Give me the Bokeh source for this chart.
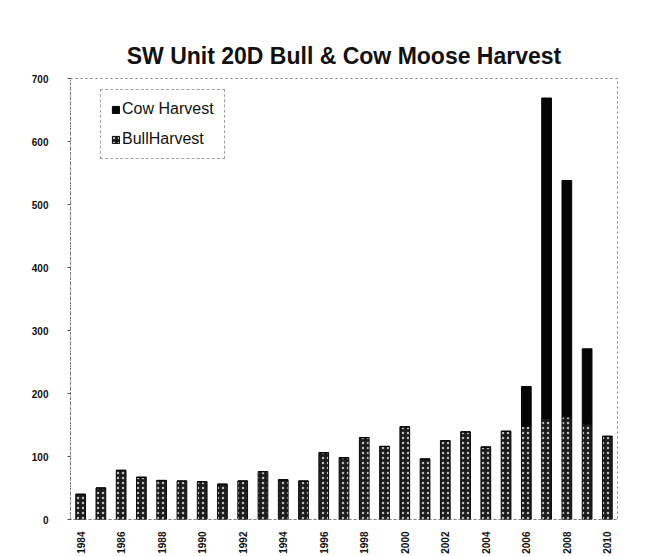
from bokeh.plotting import figure
from bokeh.models import ColumnDataSource, Range1d, FixedTicker, Legend, LegendItem, Title
from bokeh.embed import file_html
from bokeh.resources import INLINE
import math

years = list(range(1984, 2011))
bull_harvest = [40, 50, 78, 67, 62, 61, 60, 56, 61, 76, 63, 61, 106, 98, 130,
                116, 147, 96, 125, 139, 115, 140, 148, 160, 163, 152, 132]
cow_harvest = [0] * 22 + [63, 509, 375, 119, 0]
year_ticks = list(range(1984, 2011, 2))
y_ticks = [0, 100, 200, 300, 400, 500, 600, 700]

source = ColumnDataSource(dict(year=years, bull=bull_harvest, cow=cow_harvest))

p = figure(width=656, height=556, output_backend="svg", toolbar_location=None,
           x_range=Range1d(1983.5, 2010.5), y_range=Range1d(0, 700),
           min_border_left=70, min_border_right=39, min_border_top=78,
           min_border_bottom=28)

p.add_layout(Title(text="SW Unit 20D Bull & Cow Moose Harvest", align="center",
                   text_font="Liberation Sans", text_font_size="23px",
                   text_font_style="bold", text_color="#111111", standoff=19,
                   offset=6), "above")

rs = p.vbar_stack(["bull", "cow"], x="year", width=0.48, source=source,
                  fill_color=["#1c1c1c", "#050505"],
                  line_color=["#0a0a0a", "#050505"],
                  hatch_pattern=["dot", " "],
                  hatch_color=["#bdbdbd", "#050505"],
                  hatch_scale=[5, 5], hatch_weight=[1, 1])

legend = Legend(items=[LegendItem(label="Cow Harvest", renderers=[rs[1]]),
                       LegendItem(label="BullHarvest", renderers=[rs[0]])],
                location=(30, 360), orientation="vertical")
legend.margin = 0
legend.label_text_font = "Liberation Sans"
legend.label_text_font_size = "16px"
legend.label_text_color = "#111111"
legend.glyph_width = 9
legend.glyph_height = 9
legend.spacing = 12
legend.padding = 10
legend.label_standoff = 2
legend.border_line_color = "#444444"
legend.border_line_dash = "3 2"
legend.border_line_width = 1
legend.background_fill_alpha = 1
p.add_layout(legend)

p.xgrid.visible = False
p.ygrid.visible = False
p.outline_line_color = "#777777"
p.outline_line_dash = "2 3"

p.xaxis.ticker = FixedTicker(ticks=year_ticks)
p.xaxis.major_label_orientation = math.pi / 2
p.xaxis.major_label_text_font = "Liberation Sans"
p.xaxis.major_label_text_font_size = "10px"
p.xaxis.major_label_text_font_style = "bold"
p.xaxis.major_label_text_color = "#111111"
p.xaxis.axis_line_color = "#555555"
p.xaxis.axis_line_dash = "1 4"
p.xaxis.major_tick_line_color = None
p.xaxis.minor_tick_line_color = None
p.xaxis.major_label_standoff = 6

p.yaxis.ticker = FixedTicker(ticks=y_ticks)
p.yaxis.major_label_text_font = "Liberation Sans"
p.yaxis.major_label_text_font_size = "10px"
p.yaxis.major_label_text_font_style = "bold"
p.yaxis.major_label_text_color = "#111111"
p.yaxis.axis_line_color = "#444444"
p.yaxis.axis_line_dash = "1 2"
p.yaxis.major_tick_line_color = "#555555"
p.yaxis.major_tick_out = 3
p.yaxis.major_tick_in = 0
p.yaxis.minor_tick_line_color = None
p.yaxis.major_label_standoff = 19

open("out.html", "w").write(file_html(p, INLINE))
